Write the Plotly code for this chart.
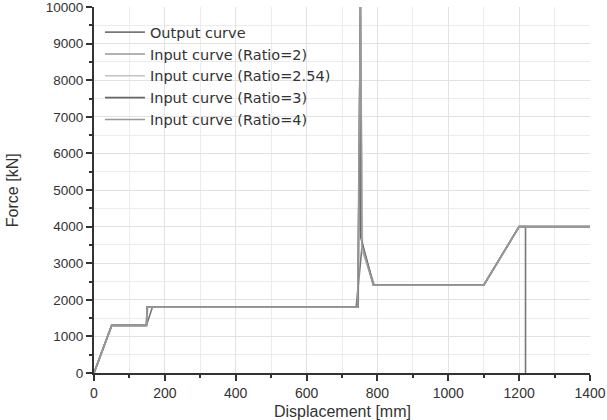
import plotly.graph_objects as go

# Data
out_x = [0, 50, 148, 165, 740, 757, 790, 1100, 1200, 1218, 1218]
out_y = [0, 1300, 1300, 1800, 1800, 3500, 2400, 2400, 4000, 4000, 0]

r2_x = [0, 50, 148, 150, 745, 752, 757, 790, 1100, 1200, 1400]
r2_y = [0, 1300, 1300, 1800, 1800, 10000, 3400, 2400, 2400, 4000, 4000]

r254_x = [0, 50, 148, 152, 746, 752, 758, 792, 1100, 1200, 1400]
r254_y = [0, 1300, 1300, 1800, 1800, 10000, 3300, 2400, 2400, 4000, 4000]

r3_x = [0, 50, 148, 150, 745, 752, 753, 789, 1100, 1200, 1400]
r3_y = [0, 1300, 1300, 1800, 1800, 10000, 3700, 2400, 2400, 4000, 4000]

r4_x = [0, 50, 148, 150, 744, 752, 756, 788, 1100, 1200, 1400]
r4_y = [0, 1300, 1300, 1800, 1800, 10000, 3500, 2400, 2400, 4000, 4000]

names = ["Output curve", "Input curve (Ratio=2)", "Input curve (Ratio=2.54)",
         "Input curve (Ratio=3)", "Input curve (Ratio=4)"]
colors = ["#777777", "#9a9a9a", "#c2c2c2", "#666666", "#999999"]
series = [(out_x, out_y), (r2_x, r2_y), (r254_x, r254_y), (r3_x, r3_y), (r4_x, r4_y)]

y_ticks = [0, 1000, 2000, 3000, 4000, 5000, 6000, 7000, 8000, 9000, 10000]
x_ticks = [0, 200, 400, 600, 800, 1000, 1200, 1400]

fig = go.Figure()
for (xs, ys), n, c in zip(series, names, colors):
    fig.add_trace(go.Scatter(x=xs, y=ys, mode="lines", name=n,
                             line=dict(color=c, width=1.6)))

font = "Liberation Sans, Arial, sans-serif"
fig.update_layout(
    width=607, height=420,
    margin=dict(l=94, r=17, t=7, b=47, autoexpand=False),
    paper_bgcolor="white", plot_bgcolor="white",
    font=dict(family=font, color="#333333"),
    showlegend=True,
    legend=dict(x=0.012, y=0.975, xanchor="left", yanchor="top",
                bgcolor="rgba(0,0,0,0)", borderwidth=0,
                font=dict(size=14.5, color="#333333", family="DejaVu Sans, sans-serif"),
                itemwidth=40,
                tracegroupgap=0),
    xaxis=dict(range=[0, 1400], tickvals=x_ticks, ticktext=[str(v) for v in x_ticks],
               automargin=False, ticklabeloverflow="allow",
               showline=True, linecolor="#333333", linewidth=2,
               ticks="outside", ticklen=6, tickwidth=1.5, tickcolor="#333333",
               tickfont=dict(size=14, color="#333333"),
               ticklabelstandoff=0,
               showgrid=True, gridcolor="#e2e2e2", gridwidth=1,
               minor=dict(dtick=100, tick0=0, ticks="outside", ticklen=3, tickwidth=1.5,
                          tickcolor="#333333", showgrid=True, gridcolor="#ececec"),
               zeroline=False),
    yaxis=dict(range=[0, 10000], tickvals=y_ticks, ticktext=[str(v) for v in y_ticks],
               automargin=False, ticklabeloverflow="allow",
               showline=True, linecolor="#333333", linewidth=2,
               ticks="outside", ticklen=6, tickwidth=1.5, tickcolor="#333333",
               tickfont=dict(size=13.5, color="#333333"),
               showgrid=True, gridcolor="#e2e2e2", gridwidth=1,
               minor=dict(dtick=500, tick0=0, ticks="outside", ticklen=3, tickwidth=1.5,
                          tickcolor="#333333", showgrid=True, gridcolor="#ececec"),
               zeroline=False),
    annotations=[
        dict(text="Displacement [mm]", xref="paper", yref="paper", x=0.5, y=-0.104,
             xanchor="center", yanchor="middle", showarrow=False,
             font=dict(size=16, color="#333333")),
        dict(text="Force [kN]", xref="paper", yref="paper", x=-0.165, y=0.5,
             xanchor="center", yanchor="middle", showarrow=False, textangle=-90,
             font=dict(size=16, color="#333333")),
    ],
)

fig.write_html("out.html")
